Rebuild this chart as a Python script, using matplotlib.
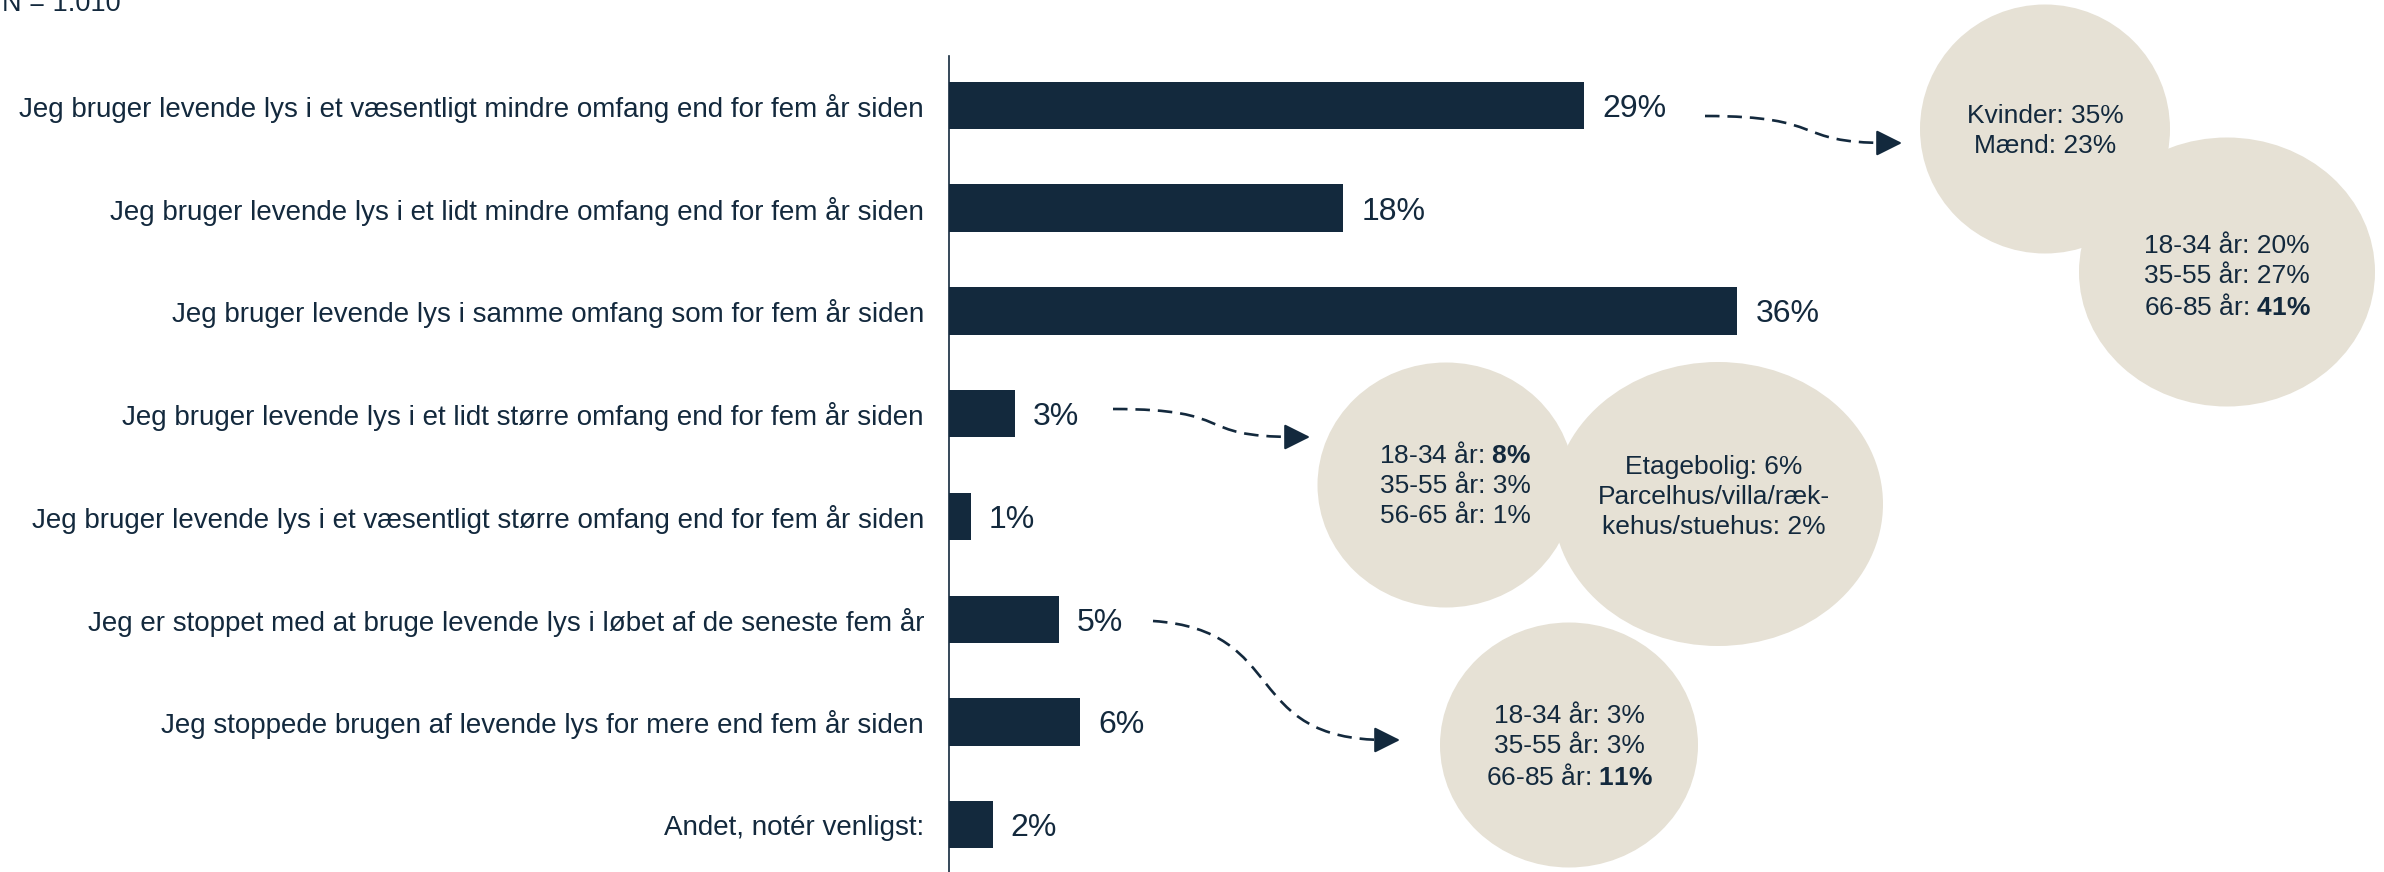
import numpy as np
import matplotlib.pyplot as plt
from matplotlib.patches import Ellipse, PathPatch
from matplotlib.path import Path

plt.rcParams["font.family"] = ["Liberation Sans", "DejaVu Sans"]
plt.rcParams["mathtext.fontset"] = "custom"
plt.rcParams["mathtext.rm"] = "Liberation Sans"
plt.rcParams["mathtext.bf"] = "Liberation Sans:bold"

NAVY = "#13293d"
BEIGE = "#e6e1d5"

categories = [
    "Jeg bruger levende lys i et væsentligt mindre omfang end for fem år siden",
    "Jeg bruger levende lys i et lidt mindre omfang end for fem år siden",
    "Jeg bruger levende lys i samme omfang som for fem år siden",
    "Jeg bruger levende lys i et lidt større omfang end for fem år siden",
    "Jeg bruger levende lys i et væsentligt større omfang end for fem år siden",
    "Jeg er stoppet med at bruge levende lys i løbet af de seneste fem år",
    "Jeg stoppede brugen af levende lys for mere end fem år siden",
    "Andet, notér venligst:",
]
values = [29, 18, 36, 3, 1, 5, 6, 2]
n_text = "N = 1.010"

# uddybende tal i boblerne
bubble_gender = ["Kvinder: 35%", "Mænd: 23%"]
bubble_age_less = ["18-34 år: 20%", "35-55 år: 27%", r"66-85 år: $\mathbf{41\%}$"]
bubble_age_more = [r"18-34 år: $\mathbf{8\%}$", "35-55 år: 3%", "56-65 år: 1%"]
bubble_home_more = ["Etagebolig: 6%", "Parcelhus/villa/ræk-", "kehus/stuehus: 2%"]
bubble_age_stopped = ["18-34 år: 3%", "35-55 år: 3%", r"66-85 år: $\mathbf{11\%}$"]

W, H = 2384, 872
fig = plt.figure(figsize=(W / 100, H / 100), dpi=100)

# hovedakse med søjler
left, top, px_per_pct = 949, 56, 21.9
ax = fig.add_axes([left / W, 0, (W - left) / W, (H - top) / H])
y = np.arange(len(values))
bars = ax.barh(y, values, height=0.46, color=NAVY)
ax.set_xlim(0, (W - left) / px_per_pct)
ax.set_ylim(7.46, -0.48)
ax.set_yticks(y)
ax.set_yticklabels(categories, fontsize=20, color=NAVY)
ax.tick_params(axis="y", length=0, pad=18)
ax.set_xticks([])
for s in ["top", "right", "bottom"]:
    ax.spines[s].set_visible(False)
ax.spines["left"].set_color(NAVY)
ax.spines["left"].set_linewidth(1.2)
labels = ax.bar_label(bars, labels=[f"{v}%" for v in values], padding=13,
                      fontsize=23, color=NAVY)
for t in labels:
    t.set_va("center_baseline")

# overlay i pixelkoordinater til bobler og pile
ov = fig.add_axes([0, 0, 1, 1])
ov.set_xlim(0, W)
ov.set_ylim(H, 0)
ov.axis("off")
ov.patch.set_alpha(0)

fig.text(2 / W, 1 - 11 / H, n_text, fontsize=19.5, color=NAVY, va="baseline")

bubbles = [
    ((2045, 129), 250, 249, bubble_gender, (2045, 131)),
    ((2227, 272), 296, 269, bubble_age_less, (2227, 277)),
    ((1446, 485), 257, 245, bubble_age_more, (1455, 485)),
    ((1718, 504), 330, 284, bubble_home_more, (1714, 497)),
    ((1569, 745), 258, 245, bubble_age_stopped, (1569, 747)),
]
for (cx, cy), w, h, lines, (tx, ty) in bubbles:
    ov.add_patch(Ellipse((cx, cy), w, h, facecolor=BEIGE, edgecolor="none", zorder=1))
for (cx, cy), w, h, lines, (tx, ty) in bubbles:
    ov.text(tx, ty, "\n".join(lines), ha="center", va="center", fontsize=19,
            color=NAVY, linespacing=1.32, zorder=3)

# stiplede s-formede pile
arrows = [
    [(1705, 116), (1830, 116), (1790, 143), (1902, 143)],
    [(1113, 409), (1240, 409), (1190, 437), (1310, 437)],
    [(1153, 621), (1290, 630), (1240, 740), (1400, 740)],
]
codes = [Path.MOVETO, Path.CURVE4, Path.CURVE4, Path.CURVE4]
for pts in arrows:
    end = pts[3]
    body = [pts[0], pts[1], pts[2], (end[0] - 14, end[1])]
    ov.add_patch(PathPatch(Path(body, codes), facecolor="none", edgecolor=NAVY,
                           linewidth=1.9, linestyle=(0, (5.5, 3)), zorder=2))
    ov.annotate("", xy=end, xytext=(end[0] - 16, end[1]),
                arrowprops=dict(arrowstyle="-|>,head_length=1.0,head_width=0.5",
                                color=NAVY, lw=1.6, shrinkA=0, shrinkB=0,
                                mutation_scale=16), zorder=2)

fig.savefig("out.png", dpi=100)
